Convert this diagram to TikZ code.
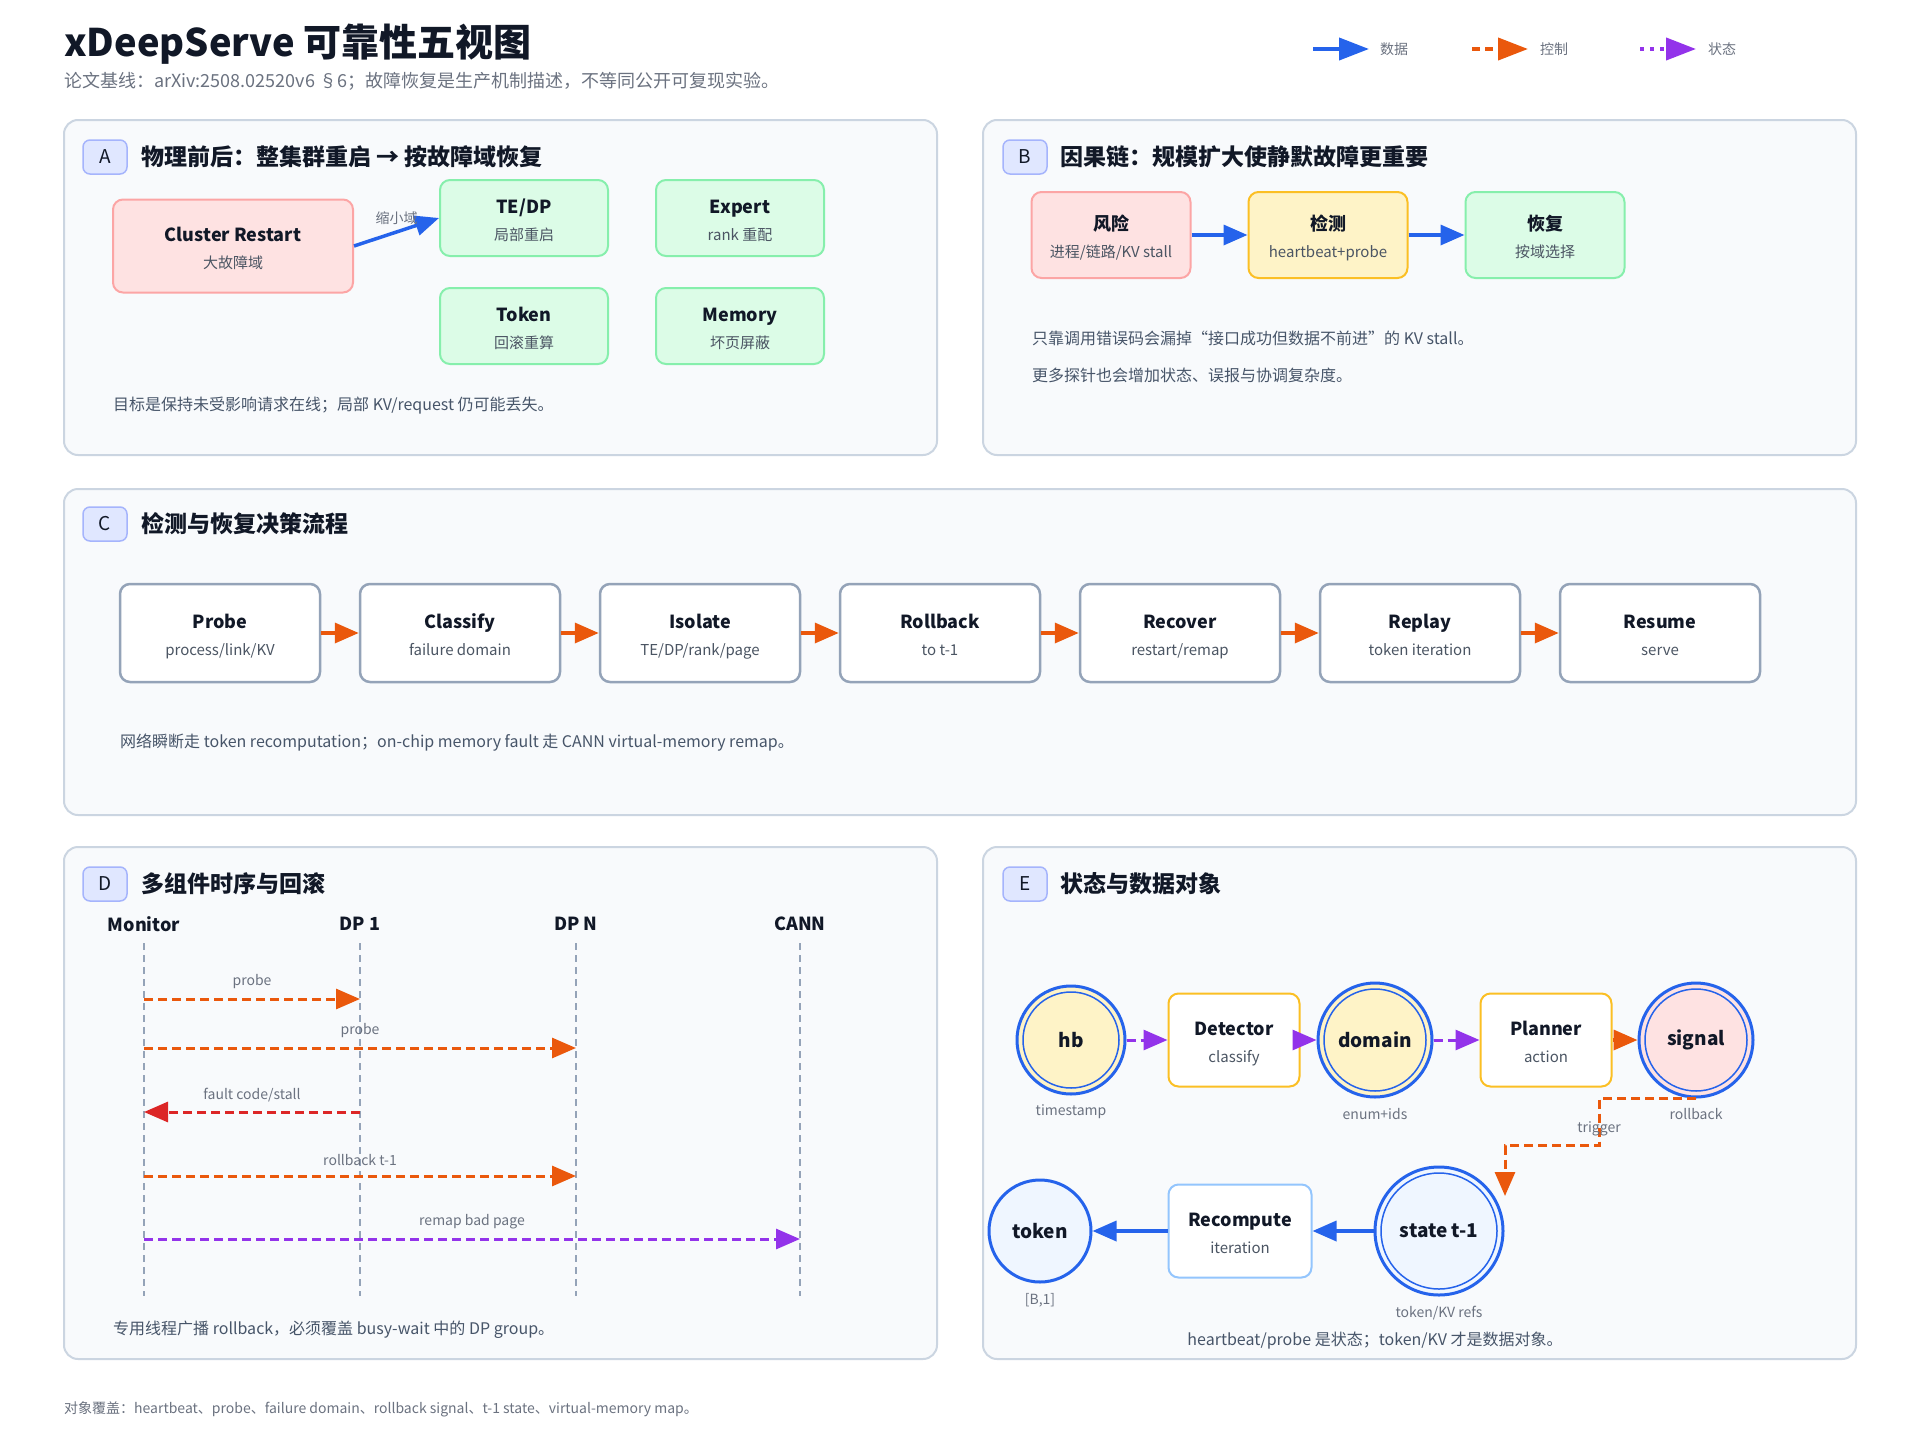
\documentclass[tikz,border=0pt]{standalone}
\usepackage{fontspec}
\setmainfont{Noto Sans CJK SC}
\usetikzlibrary{arrows.meta}

\definecolor{ink}{HTML}{111827}
\definecolor{subgray}{HTML}{4B5563}
\definecolor{notegray}{HTML}{475569}
\definecolor{mutedgray}{HTML}{6B7280}
\definecolor{panelline}{HTML}{CBD5E1}
\definecolor{panelfill}{HTML}{F8FAFC}
\definecolor{badgefill}{HTML}{E0E7FF}
\definecolor{badgeline}{HTML}{A5B4FC}
\definecolor{dataBlue}{HTML}{2563EB}
\definecolor{ctrlOrange}{HTML}{EA580C}
\definecolor{statePurple}{HTML}{9333EA}
\definecolor{faultRed}{HTML}{DC2626}
\definecolor{redFill}{HTML}{FEE2E2}
\definecolor{redLine}{HTML}{FCA5A5}
\definecolor{greenFill}{HTML}{DCFCE7}
\definecolor{greenLine}{HTML}{86EFAC}
\definecolor{amberFill}{HTML}{FEF3C7}
\definecolor{amberLine}{HTML}{FBBF24}
\definecolor{slateLine}{HTML}{94A3B8}
\definecolor{skyFill}{HTML}{EFF6FF}
\definecolor{skyLine}{HTML}{93C5FD}

\newcommand{\fsz}[2]{\fontsize{#1}{#2}\selectfont}
\newcommand{\duo}[2]{\rule[-6.6pt]{0pt}{29pt}#1\\[5pt]{\mdseries\fsz{15}{18}\color{subgray}\strut#2}}

\begin{document}
\begin{tikzpicture}[x=1pt, y=-1pt,
        panel/.style={draw=panelline, fill=panelfill, line width=2pt, rounded corners=14pt},
        badge/.style={draw=badgeline, fill=badgefill, line width=1.5pt, rounded corners=7pt, minimum width=44pt, minimum height=34pt, inner sep=0pt, text=ink, font=\fsz{19}{19}},
        heading/.style={anchor=west, inner sep=0pt, text=ink, font=\fsz{23}{23}\bfseries},
        card/.style={rounded corners=10pt, line width=2pt, inner sep=0pt, align=center, text=ink, font=\fsz{18}{22}\bfseries},
        redcard/.style={card, draw=redLine, fill=redFill},
        greencard/.style={card, draw=greenLine, fill=greenFill, minimum width=168pt, minimum height=76pt},
        ambercard/.style={card, draw=amberLine, fill=amberFill},
        stepcard/.style={card, draw=slateLine, fill=white, line width=2.5pt, minimum width=200pt, minimum height=98pt},
        whitecard/.style={card, draw=amberLine, fill=white, minimum width=131pt, minimum height=93pt},
        note/.style={anchor=west, inner sep=0pt, text=notegray, font=\fsz{16}{16}},
        tiny/.style={inner sep=0pt, text=mutedgray, font=\fsz{14}{14}},
        ring/.style={circle, draw=dataBlue, line width=3pt, inner sep=0pt, text=ink, font=\fsz{19}{19}\bfseries},
        lifeline/.style={draw=slateLine, line width=1.5pt, dash pattern=on 7pt off 5pt},
        actor/.style={inner sep=0pt, text=ink, font=\fsz{18}{18}\bfseries},
        data/.style={draw=dataBlue, line width=3.5pt, -{Triangle[length=24pt,width=20pt]}},
        ctrl/.style={draw=ctrlOrange, line width=3pt, dash pattern=on 9pt off 5pt, -{Triangle[length=24pt,width=20pt]}},
        ctrlsolid/.style={draw=ctrlOrange, line width=3.5pt, -{Triangle[length=24pt,width=20pt]}},
        fault/.style={draw=faultRed, line width=3pt, dash pattern=on 9pt off 5pt, -{Triangle[length=24pt,width=20pt]}},
        statef/.style={draw=statePurple, line width=3pt, dash pattern=on 9pt off 5pt, -{Triangle[length=24pt,width=20pt]}}
    ]
 \useasboundingbox[fill=white] (0,0) rectangle (1920,1440);

 \node[anchor=west, inner sep=0pt, text=ink, font=\fsz{38}{38}\bfseries] (title) at (64,44) {xDeepServe 可靠性五视图};
 \node[anchor=west, inner sep=0pt, text=mutedgray, font=\fsz{18}{18}] (subtitle) at (64,81) {论文基线：arXiv:2508.02520v6 §6；故障恢复是生产机制描述，不等同公开可复现实验。};

 \coordinate (lgDataA) at (1313,49);
 \coordinate (lgDataB) at (1369,49);
 \coordinate (lgCtrlA) at (1472,49);
 \coordinate (lgCtrlB) at (1528,49);
 \coordinate (lgStateA) at (1640,49);
 \coordinate (lgStateB) at (1696,49);
 \draw[draw=dataBlue, line width=4pt, -{Triangle[length=30pt,width=22pt]}] (lgDataA) -- (lgDataB);
 \draw[draw=ctrlOrange, line width=4pt, dash pattern=on 8pt off 5pt, -{Triangle[length=30pt,width=22pt]}] (lgCtrlA) -- (lgCtrlB);
 \draw[draw=statePurple, line width=4pt, dash pattern=on 4pt off 6pt, -{Triangle[length=30pt,width=22pt]}] (lgStateA) -- (lgStateB);
 \node[tiny, anchor=west] (lgData) at (1380,49) {数据};
 \node[tiny, anchor=west] (lgCtrl) at (1540,49) {控制};
 \node[tiny, anchor=west] (lgState) at (1708,49) {状态};

 \draw[panel] (64,120) rectangle (937,455);
 \node[badge] (badgeA) at (105,157) {A};
 \node[heading] (headA) at (141,157) {物理前后：整集群重启 → 按故障域恢复};
 \node[redcard, minimum width=240pt, minimum height=93pt] (cluster) at (233,246) {\duo{Cluster Restart}{大故障域}};
 \node[greencard] (tedp) at (524,218) {\duo{TE/DP}{局部重启}};
 \node[greencard] (expert) at (740,218) {\duo{Expert}{rank 重配}};
 \node[greencard] (tokenA) at (524,326) {\duo{Token}{回滚重算}};
 \node[greencard] (memory) at (740,326) {\duo{Memory}{坏页屏蔽}};
 \draw[data] (cluster.east) -- (tedp.west) node[midway, above=6pt, tiny] {缩小域};
 \node[note] (noteA) at (113,406) {目标是保持未受影响请求在线；局部 KV/request 仍可能丢失。};

 \draw[panel] (983,120) rectangle (1856,455);
 \node[badge] (badgeB) at (1025,157) {B};
 \node[heading] (headB) at (1060,157) {因果链：规模扩大使静默故障更重要};
 \node[redcard, minimum width=159pt, minimum height=86pt] (risk) at (1111,235) {\duo{风险}{进程/链路/KV stall}};
 \node[ambercard, minimum width=159pt, minimum height=86pt] (detect) at (1328,235) {\duo{检测}{heartbeat+probe}};
 \node[greencard, minimum width=159pt, minimum height=86pt] (recover) at (1545,235) {\duo{恢复}{按域选择}};
 \draw[data] (risk) -- (detect);
 \draw[data] (detect) -- (recover);
 \node[note] (noteB1) at (1032,338) {只靠调用错误码会漏掉“接口成功但数据不前进”的 KV stall。};
 \node[note] (noteB2) at (1032,375) {更多探针也会增加状态、误报与协调复杂度。};

 \draw[panel] (64,489) rectangle (1856,815);
 \node[badge] (badgeC) at (105,524) {C};
 \node[heading] (headC) at (141,524) {检测与恢复决策流程};
 \node[stepcard] (probe) at (220,633) {\duo{Probe}{process/link/KV}};
 \node[stepcard] (classify) at (460,633) {\duo{Classify}{failure domain}};
 \node[stepcard] (isolate) at (700,633) {\duo{Isolate}{TE/DP/rank/page}};
 \node[stepcard] (rollback) at (940,633) {\duo{Rollback}{to t-1}};
 \node[stepcard] (recoverC) at (1180,633) {\duo{Recover}{restart/remap}};
 \node[stepcard] (replay) at (1420,633) {\duo{Replay}{token iteration}};
 \node[stepcard] (resume) at (1660,633) {\duo{Resume}{serve}};
 \draw[ctrlsolid] (probe) -- (classify);
 \draw[ctrlsolid] (classify) -- (isolate);
 \draw[ctrlsolid] (isolate) -- (rollback);
 \draw[ctrlsolid] (rollback) -- (recoverC);
 \draw[ctrlsolid] (recoverC) -- (replay);
 \draw[ctrlsolid] (replay) -- (resume);
 \node[note] (noteC) at (120,743) {网络瞬断走 token recomputation；on-chip memory fault 走 CANN virtual-memory remap。};

 \draw[panel] (64,847) rectangle (937,1359);
 \node[badge] (badgeD) at (105,884) {D};
 \node[heading] (headD) at (141,884) {多组件时序与回滚};
 \node[actor] (monitor) at (144,924) {Monitor};
 \node[actor] (dpOne) at (360,924) {DP 1};
 \node[actor] (dpN) at (576,924) {DP N};
 \node[actor] (cann) at (800,924) {CANN};
 \draw[lifeline] (monitor |- 0,943) -- (monitor |- 0,1296);
 \draw[lifeline] (dpOne |- 0,943) -- (dpOne |- 0,1296);
 \draw[lifeline] (dpN |- 0,943) -- (dpN |- 0,1296);
 \draw[lifeline] (cann |- 0,943) -- (cann |- 0,1296);
 \draw[ctrl] (monitor |- 0,999) -- (dpOne |- 0,999) node[midway, above=9pt, tiny] {probe};
 \draw[ctrl] (monitor |- 0,1048) -- (dpN |- 0,1048) node[midway, above=9pt, tiny] {probe};
 \draw[fault] (dpOne |- 0,1112) -- (monitor |- 0,1112) node[midway, above=9pt, tiny] {fault code/stall};
 \draw[ctrl] (monitor |- 0,1176) -- (dpN |- 0,1176) node[midway, above=9pt, tiny] {rollback t-1};
 \draw[statef] (monitor |- 0,1239) -- (cann |- 0,1239) node[midway, above=9pt, tiny] {remap bad page};
 \node[note] (noteD) at (113,1330) {专用线程广播 rollback，必须覆盖 busy-wait 中的 DP group。};

 \draw[panel] (983,847) rectangle (1856,1359);
 \node[badge] (badgeE) at (1025,884) {E};
 \node[heading] (headE) at (1060,884) {状态与数据对象};
 \node[ring, fill=amberFill, minimum size=108pt] (hb) at (1071,1040) {hb};
 \node[whitecard] (detector) at (1234,1040) {\duo{Detector}{classify}};
 \node[ring, fill=amberFill, minimum size=114pt] (domain) at (1375,1040) {domain};
 \node[whitecard] (planner) at (1546,1040) {\duo{Planner}{action}};
 \node[ring, fill=redFill, minimum size=114pt] (signal) at (1696,1040) {signal};
 \node[ring, fill=skyFill, minimum size=128pt] (state) at (1439,1231) {state t-1};
 \node[card, draw=skyLine, fill=white, minimum width=143pt, minimum height=93pt] (recompute) at (1240,1231) {\duo{Recompute}{iteration}};
 \node[ring, fill=skyFill, minimum size=102pt] (token) at (1040,1231) {token};
 \draw[dataBlue, line width=1.5pt] (hb.center) circle[radius=48pt] (domain.center) circle[radius=51pt] (signal.center) circle[radius=51pt] (state.center) circle[radius=58pt];
 \node[tiny] (hbLbl) at (1071,1112) {timestamp};
 \node[tiny] (domainLbl) at (1375,1114) {enum+ids};
 \node[tiny] (signalLbl) at (1696,1114) {rollback};
 \node[tiny] (stateLbl) at (1439,1313) {token/KV refs};
 \node[tiny] (tokenLbl) at (1040,1300) {[B,1]};
 \draw[statef] (hb) -- (detector);
 \draw[statef] (detector) -- (domain);
 \draw[statef] (domain) -- (planner);
 \draw[ctrlsolid] (planner) -- (signal);
 \coordinate (trigEnd) at (1505,1196);
 \draw[ctrl] (signal.south) -- ++(-97,0) -- ++(0,47) -- ++(-94,0) -- (trigEnd);
 \node[tiny] (trigLbl) at (1599,1129) {trigger};
 \draw[data] (state) -- (recompute);
 \draw[data] (recompute) -- (token);
 \node[inner sep=0pt, text=notegray, font=\fsz{16}{16}] (noteE) at (1375,1341) {heartbeat/probe 是状态；token/KV 才是数据对象。};

 \node[anchor=west, inner sep=0pt, text=mutedgray, font=\fsz{14}{14}] (footer) at (64,1409) {对象覆盖：heartbeat、probe、failure domain、rollback signal、t-1 state、virtual-memory map。};
\end{tikzpicture}
\end{document}
